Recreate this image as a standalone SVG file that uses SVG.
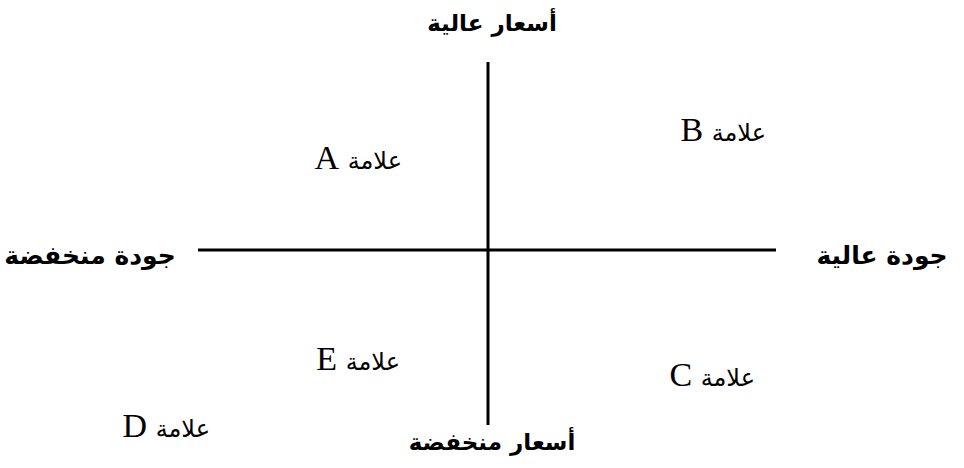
<svg xmlns="http://www.w3.org/2000/svg" width="964" height="468" viewBox="0 0 964 468">
<style>
.axis{stroke:#000;stroke-width:3;fill:none}
.title{font-family:"DejaVu Sans","Noto Sans",sans-serif;font-weight:bold;font-size:23px;fill:#000}
.side{font-size:25px}
.lbl{font-family:"Liberation Serif","DejaVu Sans",serif;fill:#000}
.lat{font-family:"Liberation Serif",serif;font-size:34px}
.ar{font-family:"DejaVu Sans",sans-serif;font-size:24px}
</style>
<rect width="964" height="468" fill="#fff"/>
<g id="connectors">
<line class="axis" x1="488" y1="62" x2="488" y2="425"/>
<line class="axis" x1="198" y1="250" x2="776" y2="250"/>
</g>
<g id="top-label"><text class="title" x="492" y="31" text-anchor="middle" direction="rtl">أسعار عالية</text></g>
<g id="bottom-label"><text class="title" x="492" y="450" text-anchor="middle" direction="rtl">أسعار منخفضة</text></g>
<g id="left-label"><text class="title side" x="90" y="264" text-anchor="middle" direction="rtl">جودة منخفضة</text></g>
<g id="right-label"><text class="title side" x="882" y="264" text-anchor="middle" direction="rtl">جودة عالية</text></g>
<g id="brand-A"><text class="lbl" x="402" y="169" text-anchor="start" direction="rtl"><tspan class="ar">علامة</tspan><tspan class="lat"> A</tspan></text></g>
<g id="brand-B"><text class="lbl" x="766" y="141" text-anchor="start" direction="rtl"><tspan class="ar">علامة</tspan><tspan class="lat"> B</tspan></text></g>
<g id="brand-E"><text class="lbl" x="400" y="370" text-anchor="start" direction="rtl"><tspan class="ar">علامة</tspan><tspan class="lat"> E</tspan></text></g>
<g id="brand-C"><text class="lbl" x="755" y="386" text-anchor="start" direction="rtl"><tspan class="ar">علامة</tspan><tspan class="lat"> C</tspan></text></g>
<g id="brand-D"><text class="lbl" x="210" y="437" text-anchor="start" direction="rtl"><tspan class="ar">علامة</tspan><tspan class="lat"> D</tspan></text></g>
</svg>
